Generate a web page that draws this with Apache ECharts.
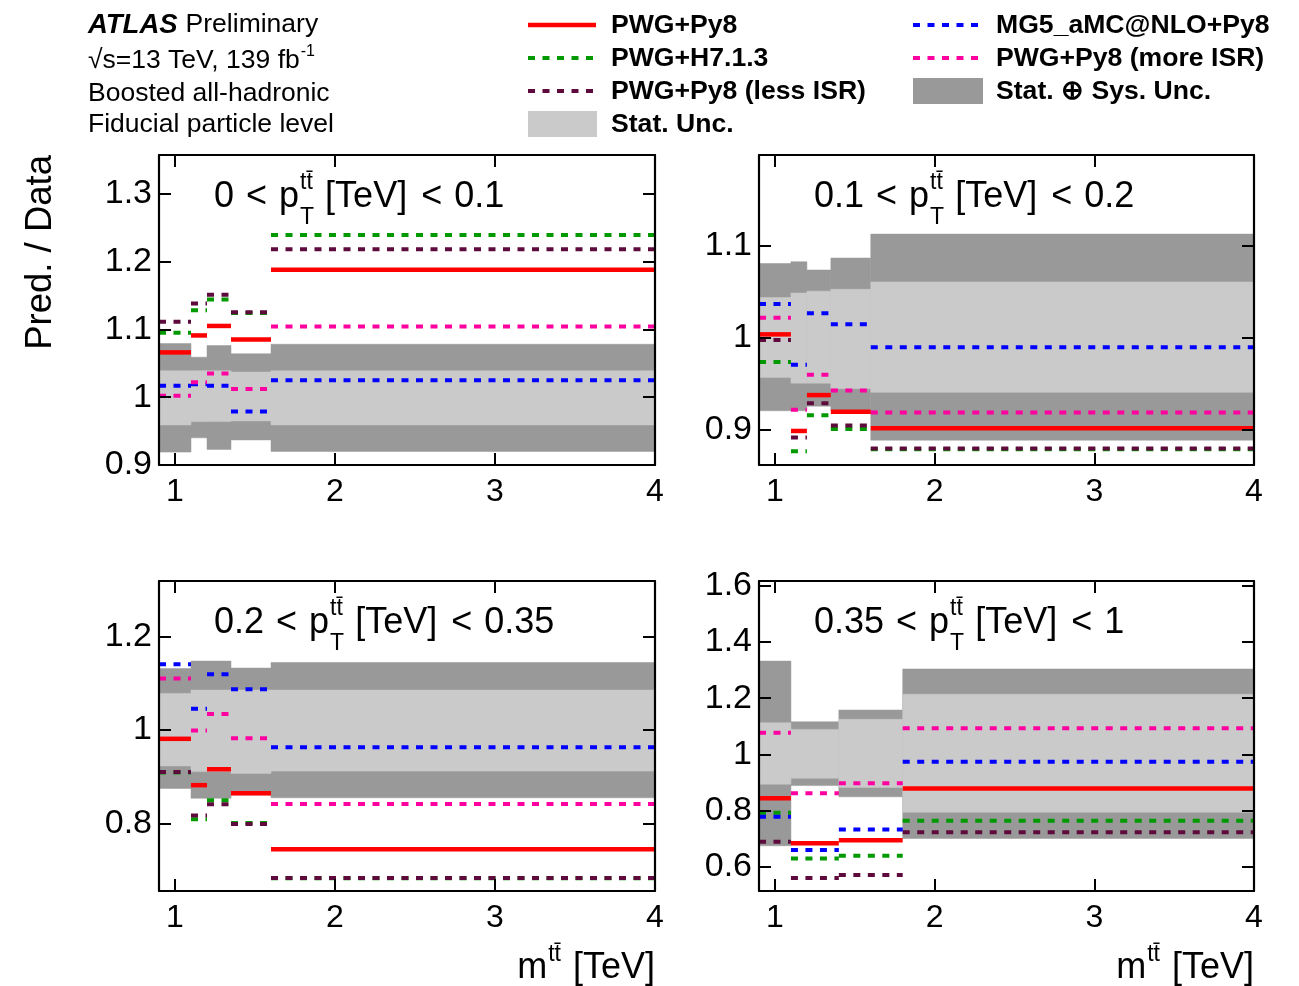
<!DOCTYPE html>
<html><head><meta charset="utf-8">
<script src="https://cdn.jsdelivr.net/npm/echarts@6/dist/echarts.min.js"></script>
<style>html,body{margin:0;padding:0;background:#fff}#c{width:1299px;height:986px}</style>
</head><body><div id="c"></div>
<script>
// ---------------- data ----------------
const binEdgesA = [0.9, 1.1, 1.2, 1.35, 1.6, 4.0];
const binEdgesB = [0.9, 1.1, 1.4, 1.8, 4.0];
const panelBins = [binEdgesA, binEdgesA, binEdgesA, binEdgesB];
const panelPtLo = ['0', '0.1', '0.2', '0.35'];
const panelPtHi = ['0.1', '0.2', '0.35', '1'];
const xTicks = [1, 2, 3, 4];
const yTicks = [[0.9, 1.0, 1.1, 1.2, 1.3], [0.9, 1.0, 1.1], [0.8, 1.0, 1.2], [0.6, 0.8, 1.0, 1.2, 1.4, 1.6]];
const yMin = [0.9, 0.862, 0.656, 0.514];
const yMax = [1.357, 1.199, 1.318, 1.617];

// model predictions / data, one array per panel
const pwgPy8   = [[1.066,1.091,1.105,1.085,1.188],[1.004,0.899,0.938,0.920,0.902],[0.981,0.882,0.916,0.865,0.745],[0.844,0.684,0.695,0.879]];
const pwgH7    = [[1.095,1.128,1.144,1.124,1.239],[0.974,0.877,0.916,0.901,0.879],[0.909,0.809,0.850,0.801,0.683],[0.792,0.630,0.639,0.764]];
const lessISR  = [[1.111,1.138,1.151,1.125,1.218],[0.998,0.892,0.929,0.905,0.880],[0.910,0.817,0.841,0.799,0.684],[0.689,0.560,0.571,0.723]];
const mg5      = [[1.017,1.019,1.017,0.979,1.025],[1.037,0.971,1.027,1.015,0.990],[1.140,1.045,1.119,1.087,0.963],[0.778,0.660,0.733,0.974]];
const moreISR  = [[1.002,1.022,1.035,1.012,1.104],[1.022,0.922,0.960,0.943,0.919],[1.110,0.999,1.034,0.982,0.842],[1.077,0.862,0.897,1.093]];

// uncertainty bands
const statSysHi = [[1.079,1.059,1.076,1.064,1.078],[1.081,1.083,1.074,1.087,1.113],[1.131,1.147,1.147,1.132,1.144],[1.332,1.116,1.158,1.304]];
const statSysLo = [[0.919,0.940,0.923,0.937,0.920],[0.921,0.921,0.926,0.921,0.889],[0.875,0.854,0.854,0.861,0.855],[0.675,0.889,0.849,0.701]];
const statHi    = [[1.039,1.039,1.039,1.037,1.039],[1.044,1.049,1.051,1.053,1.061],[1.078,1.085,1.085,1.085,1.085],[1.113,1.089,1.125,1.214]];
const statLo    = [[0.959,0.964,0.964,0.965,0.959],[0.957,0.951,0.951,0.945,0.941],[0.923,0.911,0.911,0.907,0.912],[0.894,0.915,0.882,0.794]];

// ---------------- styles ----------------
const FONT = '"Liberation Sans", Arial, Helvetica, sans-serif';
const DASH = [7, 7.5];
const models = [
  {name: 'PWG+H7.1.3', data: pwgH7, color: '#009a00', dash: DASH, width: 4},
  {name: 'PWG+Py8 (less ISR)', data: lessISR, color: '#5e0a3c', dash: DASH, width: 4},
  {name: 'MG5_aMC@NLO+Py8', data: mg5, color: '#0000ff', dash: DASH, width: 4},
  {name: 'PWG+Py8 (more ISR)', data: moreISR, color: '#ff00a0', dash: DASH, width: 4},
  {name: 'PWG+Py8', data: pwgPy8, color: '#ff0000', dash: null, width: 4.5}
];
const DARK = '#999999', LIGHT = '#cacaca';

const grids = [
  {left: 159, top: 155, width: 496, height: 310},
  {left: 759, top: 155, width: 495, height: 310},
  {left: 159, top: 581, width: 496, height: 310},
  {left: 759, top: 581, width: 495, height: 310}
];

const axisLineStyle = {color: '#000', width: 2.2};
const xAxes = [], yAxes = [], series = [];
grids.forEach((g, p) => {
  ['bottom', 'top'].forEach(pos => {
    xAxes.push({
      gridIndex: p, type: 'value', min: 0.9, max: 4.0, position: pos, z: 10,
      axisLine: {show: true, onZero: false, lineStyle: axisLineStyle},
      axisTick: {show: true, inside: true, length: 12, customValues: xTicks, lineStyle: {color: '#000', width: 2}},
      axisLabel: {show: pos === 'bottom', customValues: xTicks, fontSize: 32, fontFamily: FONT, color: '#000', margin: 11,
                  hideOverlap: false, formatter: v => String(Math.round(v))},
      splitLine: {show: false}
    });
  });
  ['left', 'right'].forEach(pos => {
    yAxes.push({
      gridIndex: p, type: 'value', min: yMin[p], max: yMax[p], position: pos, z: 10,
      axisLine: {show: true, onZero: false, lineStyle: axisLineStyle},
      axisTick: {show: true, inside: true, length: 12, customValues: yTicks[p], lineStyle: {color: '#000', width: 2}},
      axisLabel: {show: pos === 'left', customValues: yTicks[p], fontSize: 34, fontFamily: FONT, color: '#000', margin: 7,
                  hideOverlap: false, formatter: v => String(Math.round(v * 10) / 10)},
      splitLine: {show: false}
    });
  });

  const edges = panelBins[p];
  const bandData = (lo, hi) => lo[p].map((v, i) => [edges[i], edges[i + 1], v, hi[p][i]]);
  const rectItem = color => function (params, api) {
    const a = api.coord([api.value(0), api.value(3)]);
    const b = api.coord([api.value(1), api.value(2)]);
    return {type: 'rect', shape: {x: a[0], y: a[1], width: b[0] - a[0], height: b[1] - a[1]},
            style: {fill: color, stroke: color, lineWidth: 0.5}};
  };
  series.push({type: 'custom', name: 'Stat. ⊕ Sys. Unc.', coordinateSystem: 'cartesian2d', xAxisIndex: 2 * p, yAxisIndex: 2 * p,
    encode: {x: [0, 1], y: [2, 3]}, z: 1, data: bandData(statSysLo, statSysHi), renderItem: rectItem(DARK), silent: true});
  series.push({type: 'custom', name: 'Stat. Unc.', coordinateSystem: 'cartesian2d', xAxisIndex: 2 * p, yAxisIndex: 2 * p,
    encode: {x: [0, 1], y: [2, 3]}, z: 2, data: bandData(statLo, statHi), renderItem: rectItem(LIGHT), silent: true});

  models.forEach((m, k) => {
    series.push({
      type: 'custom', name: m.name, coordinateSystem: 'cartesian2d', xAxisIndex: 2 * p, yAxisIndex: 2 * p,
      encode: {x: [0, 1], y: 2}, z: 3 + k, silent: true,
      data: m.data[p].map((v, i) => [edges[i], edges[i + 1], v]),
      renderItem: function (params, api) {
        const a = api.coord([api.value(0), api.value(2)]);
        const b = api.coord([api.value(1), api.value(2)]);
        return {type: 'line', shape: {x1: a[0], y1: a[1], x2: b[0], y2: b[1]},
                style: {stroke: m.color, lineWidth: m.width, lineDash: m.dash || null, lineCap: 'butt'}};
      }
    });
  });
});

// ---------------- text / legend graphics ----------------
const mctx = document.createElement('canvas').getContext('2d');
function tw(text, size, weight) { mctx.font = (weight || 'normal') + ' ' + size + 'px ' + FONT; return mctx.measureText(text).width; }
function txt(x, y, text, size, opts) {
  opts = opts || {};
  return {type: 'text', x: x, y: y, rotation: opts.rotation || 0, z: 100, silent: true,
          style: {text: text, fill: '#000', font: (opts.style || 'normal') + ' ' + (opts.weight || 'normal') + ' ' + size + 'px ' + FONT,
                  align: opts.align || 'left', verticalAlign: 'middle'}};
}
const graphics = [];

// panel labels  "lo < p_T^{tt̄} [TeV] < hi"
grids.forEach((g, p) => {
  const MS = 36, SS = 23;
  let x = g.left + 55;
  const yc = g.top + 42;
  const gap = tw(' ', MS) + 2;
  graphics.push(txt(x, yc, panelPtLo[p], MS)); x += tw(panelPtLo[p], MS) + gap;
  graphics.push(txt(x, yc, '<', MS)); x += tw('<', MS) + gap;
  graphics.push(txt(x, yc, 'p', MS)); x += tw('p', MS) + 1;
  graphics.push(txt(x, yc - 14, 'tt\u0304', SS));
  graphics.push(txt(x, yc + 21, 'T', SS));
  x += Math.max(tw('tt', SS), tw('T', SS)) + 11;
  graphics.push(txt(x, yc, '[TeV]', MS)); x += tw('[TeV]', MS) + gap + 2;
  graphics.push(txt(x, yc, '<', MS)); x += tw('<', MS) + gap;
  graphics.push(txt(x, yc, panelPtHi[p], MS));
});

// x-axis titles (bottom row)
[2, 3].forEach(p => {
  const g = grids[p];
  const R = g.left + g.width, yc = 968, MS = 36, SS = 23;
  const wb = tw('[TeV]', MS), ws = tw('tt', SS), wm = tw('m', MS);
  graphics.push(txt(R, yc, '[TeV]', MS, {align: 'right'}));
  const xs = R - wb - 12 - ws;
  graphics.push(txt(xs, yc - 13, 'tt\u0304', SS));
  graphics.push(txt(xs - wm - 1, yc, 'm', MS));
});

// y-axis title
graphics.push(txt(41, 155, 'Pred. / Data', 36.5, {align: 'right', rotation: Math.PI / 2}));

// ATLAS block
const LS = 26.5;
graphics.push(txt(88, 25, 'ATLAS', LS + 1, {style: 'italic', weight: 'bold'}));
graphics.push(txt(88 + tw('ATLAS', LS + 1, 'italic bold') + 8, 25, 'Preliminary', LS));
graphics.push(txt(88, 61, '\u221As=13 TeV, 139 fb', LS));
graphics.push(txt(88 + tw('\u221As=13 TeV, 139 fb', LS) + 1, 52, '-1', 16));
graphics.push(txt(88, 94, 'Boosted all-hadronic', LS));
graphics.push(txt(88, 125, 'Fiducial particle level', LS));

// legend
const LB = 26.6;
const legendRows = [
  {col: 0, row: 0, m: 4}, {col: 0, row: 1, m: 0}, {col: 0, row: 2, m: 1},
  {col: 1, row: 0, m: 2}, {col: 1, row: 1, m: 3}
];
const colX = [528, 913], rowY = [25, 58, 91, 124];
legendRows.forEach(e => {
  const m = models[e.m];
  const x = colX[e.col], y = rowY[e.row];
  graphics.push({type: 'line', z: 100, silent: true, shape: {x1: x, y1: y, x2: x + 68, y2: y},
    style: {stroke: m.color, lineWidth: m.width, lineDash: m.dash || null}});
  graphics.push(txt(x + 83, y + 1, m.name, LB, {weight: 'bold'}));
});
graphics.push({type: 'rect', z: 100, silent: true, shape: {x: 528, y: 111, width: 69, height: 26}, style: {fill: LIGHT}});
graphics.push(txt(611, 125, 'Stat. Unc.', LB, {weight: 'bold'}));
graphics.push({type: 'rect', z: 100, silent: true, shape: {x: 913, y: 78, width: 70, height: 26}, style: {fill: DARK}});
graphics.push(txt(996, 92, 'Stat. \u2295 Sys. Unc.', LB, {weight: 'bold'}));

const chart = echarts.init(document.getElementById('c'), null, {renderer: 'canvas'});
chart.setOption({
  animation: false,
  backgroundColor: '#fff',
  grid: grids.map(g => Object.assign({containLabel: false}, g)),
  xAxis: xAxes,
  yAxis: yAxes,
  series: series,
  graphic: graphics
});
</script>
</body></html>
